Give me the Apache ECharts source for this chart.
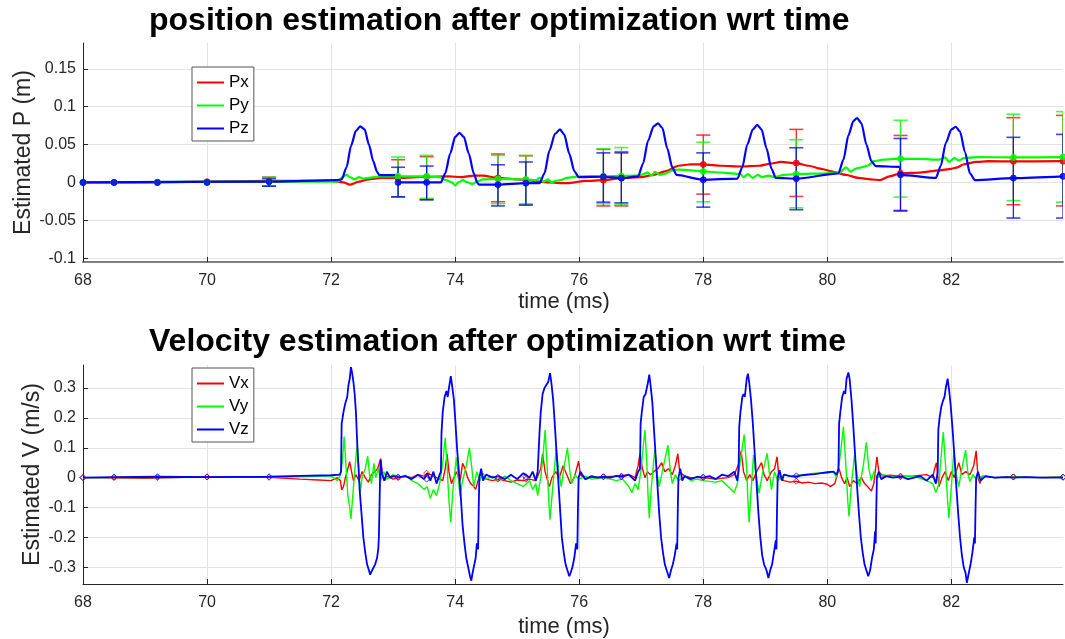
<!DOCTYPE html>
<html><head><meta charset="utf-8">
<script src="https://cdn.jsdelivr.net/npm/echarts@6/dist/echarts.min.js"></script>
<style>html,body{margin:0;padding:0;background:#fff}#c{width:1065px;height:639px}</style>
</head><body><div id="c"></div>
<script>
// ---------- tick labels ----------
const xTicks = [68, 70, 72, 74, 76, 78, 80, 82];
const pTicks = [-0.1, -0.05, 0, 0.05, 0.1, 0.15];
const vTicks = [-0.3, -0.2, -0.1, 0, 0.1, 0.2, 0.3];
const posNames = ['Px', 'Py', 'Pz'];
const velNames = ['Vx', 'Vy', 'Vz'];

// ---------- position lines [t, value] ----------
const pxLine = [[68,0],[69,0],[70,0.001],[71,0.002],[72.0,0.002],[72.2,0.0],[72.3,-0.003],[72.45,0.001],[72.6,0.004],[72.8,0.006],[73.08,0.006],[73.54,0.0075],[73.9,0.008],[74.1,0.007],[74.3,0.009],[74.45,0.009],[74.69,0.006],[75.0,0.004],[75.14,0.003],[75.5,0.0],[75.8,-0.001],[76.1,0.002],[76.39,0.003],[76.68,0.0057],[77.0,0.007],[77.2,0.01],[77.4,0.015],[77.6,0.022],[77.8,0.024],[78.0,0.0238],[78.3,0.022],[78.6,0.021],[78.9,0.022],[79.1,0.025],[79.25,0.027],[79.5,0.0255],[79.7,0.022],[79.9,0.018],[80.1,0.014],[80.3,0.01],[80.5,0.006],[80.7,0.004],[80.85,0.003],[81.0,0.008],[81.18,0.012],[81.5,0.013],[81.8,0.016],[82.0,0.018],[82.1,0.02],[82.2,0.024],[82.4,0.027],[82.6,0.028],[83.0,0.0278],[83.8,0.028]];
const pyLine = [[68,0],[71,0.001],[72.1,0.001],[72.2,0.008],[72.25,0.01],[72.3,0.007],[72.38,0.004],[72.45,0.007],[72.52,0.005],[72.6,0.006],[72.8,0.008],[73.08,0.008],[73.54,0.008],[73.75,0.007],[73.85,0.003],[73.95,0.0],[74.0,-0.004],[74.05,0.0],[74.12,0.003],[74.2,0.0],[74.28,-0.002],[74.35,0.001],[74.45,0.004],[74.69,0.0045],[75.14,0.004],[75.3,0.003],[75.36,0.006],[75.42,0.001],[75.5,0.004],[75.55,0.0],[75.62,0.002],[75.7,0.003],[75.8,0.006],[76.0,0.008],[76.39,0.008],[76.68,0.0085],[76.9,0.009],[77.0,0.01],[77.1,0.013],[77.17,0.009],[77.22,0.014],[77.3,0.01],[77.4,0.012],[77.5,0.016],[77.6,0.017],[77.8,0.016],[78.0,0.0145],[78.3,0.013],[78.6,0.011],[78.65,0.007],[78.72,0.011],[78.8,0.006],[78.88,0.01],[78.95,0.007],[79.05,0.009],[79.15,0.007],[79.3,0.01],[79.5,0.011],[80.0,0.012],[80.2,0.013],[80.3,0.02],[80.38,0.014],[80.45,0.018],[80.55,0.02],[80.65,0.022],[80.75,0.028],[80.9,0.03],[81.18,0.0313],[81.5,0.031],[81.8,0.03],[81.9,0.033],[81.96,0.027],[82.05,0.032],[82.12,0.029],[82.2,0.032],[82.4,0.0335],[83.0,0.033],[83.8,0.0335]];
const pzLine = [[68,0],[71,0.001],[72.1,0.003],[72.17,0.004],[72.25,0.02],[72.32,0.048],[72.4,0.068],[72.47,0.074],[72.54,0.07],[72.61,0.05],[72.68,0.028],[72.74,0.014],[72.78,0.0097],[73.07,0.0097],[73.08,0.0],[73.54,0.0],[73.77,0.0],[73.84,0.012],[73.92,0.038],[74.0,0.06],[74.07,0.0655],[74.14,0.06],[74.22,0.038],[74.3,0.012],[74.36,-0.001],[74.39,-0.003],[74.69,-0.003],[75.14,-0.001],[75.36,-0.001],[75.44,0.012],[75.52,0.042],[75.61,0.064],[75.69,0.07],[75.76,0.063],[75.84,0.038],[75.92,0.015],[75.99,0.007],[76.39,0.0075],[76.68,0.0057],[76.95,0.008],[77.03,0.025],[77.11,0.055],[77.2,0.074],[77.27,0.078],[77.34,0.072],[77.42,0.045],[77.5,0.02],[77.57,0.01],[78.0,0.0035],[78.55,0.005],[78.63,0.02],[78.71,0.05],[78.8,0.07],[78.87,0.076],[78.94,0.07],[79.02,0.045],[79.1,0.018],[79.17,0.006],[79.5,0.005],[80.18,0.012],[80.26,0.03],[80.34,0.062],[80.42,0.081],[80.48,0.085],[80.55,0.078],[80.63,0.05],[80.71,0.028],[80.78,0.0215],[81.17,0.0205],[81.18,0.01],[81.75,0.006],[81.83,0.022],[81.91,0.052],[82.0,0.07],[82.07,0.0735],[82.14,0.067],[82.22,0.04],[82.3,0.012],[82.38,0.003],[83.0,0.0057],[83.8,0.008]];

// ---------- position markers & error bars ----------
const markT = [68, 68.5, 69.2, 70, 71, 73.08, 73.54, 74.69, 75.14, 76.39, 76.68, 78.0, 79.5, 81.18, 83.0, 83.8];
const pxMark = [0, 0, 0, 0.001, 0.002, 0.006, 0.0075, 0.006, 0.003, 0.003, 0.0057, 0.0238, 0.0255, 0.012, 0.0278, 0.028];
const pyMark = [0, 0, 0, 0, 0.001, 0.008, 0.008, 0.0045, 0.004, 0.008, 0.0085, 0.0145, 0.011, 0.0313, 0.033, 0.0335];
const pzMark = [0, 0, 0, 0, 0.001, 0, 0, -0.003, -0.001, 0.0075, 0.0057, 0.0035, 0.005, 0.010, 0.0057, 0.008];
const errT = [71, 73.08, 73.54, 74.69, 75.14, 76.39, 76.68, 78.0, 79.5, 81.18, 83.0, 83.8];
const pxLow  = [-0.005, -0.019, -0.0225, -0.0255, -0.029, -0.031, -0.031, -0.0154, -0.0185, -0.038, -0.0295, -0.031];
const pxHigh = [0.007, 0.030, 0.034, 0.0375, 0.0352, 0.0436, 0.0405, 0.0625, 0.070, 0.062, 0.0855, 0.0885];
const pyLow  = [-0.005, -0.019, -0.021, -0.028, -0.0286, -0.028, -0.029, -0.0256, -0.0335, -0.0194, -0.024, -0.026];
const pyHigh = [0.007, 0.0335, 0.0357, 0.0357, 0.0357, 0.0445, 0.046, 0.053, 0.0564, 0.082, 0.090, 0.0934];
const pzLow  = [-0.005, -0.019, -0.023, -0.031, -0.030, -0.026, -0.027, -0.0326, -0.036, -0.037, -0.047, -0.047];
const pzHigh = [0.005, 0.020, 0.0216, 0.0233, 0.027, 0.039, 0.039, 0.039, 0.0458, 0.058, 0.0595, 0.0634];

// ---------- velocity lines [t, value] ----------
const vxLine = [[68,0],[69,-0.002],[70,0.003],[70.5,0.002],[71,0.001],[71.5,-0.005],[71.8,-0.008],[72.0,-0.01],[72.1,0.0],[72.15,-0.01],[72.17,-0.041],[72.2,-0.03],[72.23,0.0],[72.27,0.03],[72.3,0.053],[72.33,0.02],[72.36,-0.01],[72.4,0.01],[72.45,-0.01],[72.5,0.02],[72.55,0.0],[72.6,-0.015],[72.65,0.01],[72.7,0.02],[72.75,0.03],[72.8,0.064],[72.82,0.02],[72.86,-0.01],[72.9,0.005],[73.0,-0.005],[73.1,0.0],[73.2,0.005],[73.3,0.0],[73.4,0.01],[73.5,0.005],[73.55,0.015],[73.7,0.0],[73.8,-0.01],[73.84,0.03],[73.87,0.079],[73.9,0.02],[73.94,-0.02],[73.98,0.0],[74.02,0.02],[74.08,-0.01],[74.12,0.048],[74.16,0.03],[74.2,0.0],[74.25,-0.02],[74.3,-0.03],[74.33,-0.039],[74.37,-0.01],[74.4,0.01],[74.5,-0.005],[74.6,-0.01],[74.7,-0.005],[74.8,-0.01],[74.9,-0.015],[75.0,-0.008],[75.1,-0.01],[75.2,-0.005],[75.3,-0.01],[75.38,0.03],[75.41,0.08],[75.45,0.02],[75.49,-0.01],[75.52,-0.03],[75.56,0.0],[75.62,0.02],[75.68,0.0],[75.74,0.04],[75.8,0.01],[75.86,-0.02],[75.92,0.0],[75.99,0.055],[76.02,0.01],[76.1,-0.005],[76.2,0.0],[76.4,0.003],[76.6,0.005],[76.8,0.01],[76.9,0.0],[76.95,0.04],[76.98,0.08],[77.02,0.03],[77.06,0.0],[77.1,0.02],[77.15,0.01],[77.2,0.02],[77.27,0.03],[77.33,0.05],[77.38,0.02],[77.44,0.03],[77.5,0.01],[77.55,0.04],[77.59,0.08],[77.62,0.02],[77.7,0.005],[77.8,0.0],[78.0,0.0],[78.2,-0.005],[78.4,0.0],[78.5,0.01],[78.58,0.05],[78.61,0.09],[78.65,0.02],[78.7,-0.01],[78.75,0.01],[78.8,-0.01],[78.86,0.02],[78.94,0.05],[78.98,0.01],[79.03,-0.01],[79.1,0.02],[79.15,0.03],[79.19,0.07],[79.22,0.0],[79.3,-0.01],[79.4,-0.015],[79.5,-0.012],[79.6,-0.018],[79.7,-0.015],[79.8,-0.02],[79.9,-0.018],[80.0,-0.022],[80.05,-0.03],[80.12,-0.02],[80.19,0.03],[80.23,0.0],[80.28,-0.02],[80.32,0.0],[80.36,-0.03],[80.42,-0.01],[80.48,-0.02],[80.55,0.0],[80.6,-0.02],[80.65,-0.03],[80.71,-0.045],[80.75,-0.02],[80.8,0.07],[80.83,0.02],[80.9,0.005],[81.0,0.008],[81.2,0.005],[81.4,0.006],[81.6,0.01],[81.7,0.0],[81.73,0.03],[81.76,0.05],[81.8,-0.03],[81.85,0.0],[81.9,0.02],[81.95,-0.01],[82.0,0.02],[82.05,0.0],[82.12,0.05],[82.17,0.01],[82.23,0.02],[82.3,0.01],[82.36,0.04],[82.4,0.09],[82.43,0.0],[82.46,-0.02],[82.5,0.005],[82.7,0.0],[83.0,0.003],[83.4,0.0],[83.8,0.002]];
const vyLine = [[68,0],[69,0],[70,0.001],[71,0.002],[71.5,0.004],[72.0,0.006],[72.1,-0.01],[72.15,0.01],[72.18,0.05],[72.21,0.137],[72.24,0.04],[72.27,-0.06],[72.3,-0.1],[72.32,-0.138],[72.35,-0.06],[72.38,0.02],[72.42,0.109],[72.45,0.02],[72.47,-0.049],[72.5,0.0],[72.55,0.03],[72.59,0.072],[72.62,0.01],[72.65,-0.02],[72.69,0.048],[72.72,0.0],[72.76,0.03],[72.8,-0.01],[72.85,0.02],[72.9,-0.005],[73.0,0.01],[73.1,0.0],[73.2,0.008],[73.3,-0.01],[73.4,-0.02],[73.5,-0.04],[73.55,-0.03],[73.6,-0.07],[73.65,-0.04],[73.7,-0.06],[73.75,-0.02],[73.8,0.05],[73.84,0.133],[73.87,0.04],[73.9,-0.08],[73.93,-0.15],[73.96,-0.05],[74.0,0.03],[74.02,0.067],[74.05,0.0],[74.08,-0.063],[74.12,-0.01],[74.18,0.04],[74.23,0.1],[74.27,0.03],[74.3,-0.03],[74.35,0.02],[74.4,-0.01],[74.45,0.015],[74.5,-0.005],[74.6,0.005],[74.7,-0.01],[74.8,0.005],[74.9,-0.01],[75.0,-0.02],[75.1,-0.03],[75.2,-0.01],[75.25,-0.04],[75.3,-0.02],[75.33,-0.06],[75.38,0.0],[75.42,0.08],[75.45,0.159],[75.48,0.05],[75.51,-0.08],[75.53,-0.141],[75.57,-0.04],[75.6,0.03],[75.63,0.098],[75.67,0.02],[75.71,-0.03],[75.76,0.04],[75.81,0.1],[75.85,0.02],[75.88,-0.02],[75.93,0.01],[76.0,-0.005],[76.1,0.005],[76.2,-0.005],[76.4,0.0],[76.6,-0.01],[76.7,-0.005],[76.8,-0.03],[76.85,-0.05],[76.9,-0.02],[76.95,-0.04],[77.0,0.03],[77.03,0.1],[77.06,0.159],[77.09,0.05],[77.11,-0.06],[77.13,-0.136],[77.16,-0.04],[77.19,0.03],[77.22,0.094],[77.26,0.01],[77.29,-0.03],[77.35,0.03],[77.43,0.109],[77.47,0.02],[77.5,-0.02],[77.55,0.01],[77.6,-0.01],[77.7,0.005],[77.8,-0.01],[77.9,-0.005],[78.0,-0.01],[78.2,-0.015],[78.3,-0.01],[78.4,-0.03],[78.5,-0.05],[78.55,-0.02],[78.6,0.06],[78.66,0.144],[78.7,0.03],[78.72,-0.08],[78.74,-0.15],[78.77,-0.05],[78.81,0.076],[78.85,0.01],[78.9,-0.052],[78.96,0.02],[79.03,0.081],[79.07,0.01],[79.1,-0.04],[79.15,0.02],[79.2,-0.01],[79.3,0.01],[79.4,0.005],[79.6,0.01],[79.8,0.015],[80.0,0.015],[80.1,0.02],[80.15,0.0],[80.2,0.06],[80.26,0.17],[80.3,0.04],[80.33,-0.08],[80.35,-0.13],[80.39,-0.02],[80.44,0.076],[80.48,0.01],[80.52,-0.03],[80.58,0.04],[80.63,0.118],[80.67,0.03],[80.71,-0.01],[80.75,0.02],[80.8,0.0],[80.9,0.01],[81.0,0.005],[81.2,0.003],[81.4,0.005],[81.6,-0.01],[81.7,-0.02],[81.75,-0.05],[81.8,-0.02],[81.83,0.06],[81.87,0.153],[81.91,0.03],[81.94,-0.08],[81.96,-0.136],[82.0,-0.03],[82.04,0.087],[82.08,0.01],[82.12,-0.03],[82.17,0.03],[82.23,0.092],[82.27,0.01],[82.3,-0.013],[82.35,0.01],[82.4,-0.005],[82.5,0.005],[82.7,0.0],[83.0,0.003],[83.4,0.0],[83.8,0.002]];
const vzLine = [[68,0],[68.5,0.002],[69.2,0.003],[70,0.002],[71,0.003],[71.5,0.006],[72.0,0.008],[72.14,0.01],[72.16,0.02],[72.17,0.18],[72.2,0.22],[72.23,0.25],[72.26,0.27],[72.28,0.31],[72.3,0.33],[72.32,0.37],[72.34,0.35],[72.36,0.32],[72.38,0.28],[72.4,0.22],[72.42,0.12],[72.44,0.04],[72.46,-0.04],[72.49,-0.12],[72.52,-0.2],[72.55,-0.25],[72.58,-0.29],[72.61,-0.31],[72.63,-0.325],[72.65,-0.315],[72.68,-0.31],[72.71,-0.29],[72.74,-0.27],[72.76,-0.24],[72.77,-0.2],[72.78,-0.1],[72.79,0.01],[72.8,0.06],[72.82,0.01],[72.86,-0.01],[72.9,0.02],[72.95,0.0],[73.0,0.005],[73.1,0.002],[73.2,0.005],[73.3,-0.005],[73.4,0.01],[73.5,-0.005],[73.55,0.015],[73.6,-0.01],[73.65,0.02],[73.7,-0.02],[73.75,0.01],[73.77,0.02],[73.78,0.15],[73.8,0.22],[73.83,0.27],[73.86,0.29],[73.88,0.27],[73.9,0.3],[73.93,0.34],[73.95,0.31],[73.98,0.26],[74.0,0.2],[74.03,0.1],[74.06,0.02],[74.09,-0.06],[74.12,-0.16],[74.15,-0.22],[74.18,-0.27],[74.21,-0.3],[74.24,-0.33],[74.26,-0.345],[74.28,-0.32],[74.31,-0.29],[74.33,-0.27],[74.35,-0.22],[74.37,-0.24],[74.38,-0.1],[74.39,0.0],[74.42,0.03],[74.45,-0.01],[74.5,0.01],[74.6,0.0],[74.7,0.005],[74.8,-0.005],[74.9,0.01],[75.0,-0.005],[75.1,0.015],[75.2,0.0],[75.25,0.02],[75.3,-0.01],[75.33,0.02],[75.35,0.02],[75.36,0.15],[75.38,0.22],[75.41,0.28],[75.44,0.3],[75.47,0.3],[75.5,0.32],[75.53,0.35],[75.55,0.32],[75.58,0.26],[75.6,0.2],[75.63,0.1],[75.66,0.0],[75.69,-0.1],[75.72,-0.2],[75.75,-0.25],[75.78,-0.29],[75.81,-0.31],[75.84,-0.33],[75.86,-0.32],[75.89,-0.3],[75.92,-0.27],[75.95,-0.22],[75.97,-0.24],[75.98,-0.1],[75.99,0.0],[76.02,0.02],[76.1,-0.005],[76.2,0.005],[76.3,0.0],[76.4,0.003],[76.5,0.0],[76.6,0.006],[76.7,0.003],[76.8,0.01],[76.9,-0.01],[76.95,0.02],[76.98,0.03],[76.99,0.18],[77.01,0.22],[77.04,0.27],[77.07,0.28],[77.09,0.3],[77.11,0.32],[77.13,0.345],[77.15,0.31],[77.18,0.25],[77.2,0.18],[77.23,0.08],[77.26,-0.02],[77.29,-0.12],[77.32,-0.2],[77.35,-0.25],[77.38,-0.29],[77.41,-0.31],[77.45,-0.336],[77.48,-0.31],[77.51,-0.29],[77.54,-0.26],[77.57,-0.22],[77.58,-0.24],[77.59,-0.1],[77.6,0.0],[77.63,0.03],[77.66,-0.01],[77.7,0.005],[77.8,-0.005],[77.9,0.003],[78.0,0.0],[78.1,0.005],[78.2,-0.005],[78.3,0.01],[78.4,0.005],[78.5,0.02],[78.55,-0.01],[78.57,0.03],[78.58,0.17],[78.6,0.22],[78.63,0.27],[78.65,0.28],[78.67,0.27],[78.7,0.33],[78.72,0.348],[78.74,0.32],[78.77,0.26],[78.8,0.18],[78.83,0.08],[78.86,-0.02],[78.89,-0.12],[78.92,-0.2],[78.95,-0.26],[78.98,-0.29],[79.02,-0.31],[79.05,-0.336],[79.08,-0.31],[79.11,-0.29],[79.14,-0.25],[79.17,-0.21],[79.18,-0.24],[79.19,-0.1],[79.2,0.0],[79.23,0.025],[79.27,-0.01],[79.3,0.01],[79.4,0.005],[79.5,0.003],[79.6,0.008],[79.7,0.01],[79.8,0.012],[79.9,0.015],[80.0,0.018],[80.1,0.02],[80.15,0.01],[80.18,0.03],[80.19,0.18],[80.21,0.22],[80.24,0.27],[80.27,0.29],[80.29,0.28],[80.31,0.33],[80.34,0.352],[80.36,0.33],[80.39,0.26],[80.42,0.17],[80.45,0.07],[80.48,-0.03],[80.51,-0.12],[80.54,-0.2],[80.57,-0.25],[80.6,-0.29],[80.63,-0.31],[80.66,-0.33],[80.69,-0.31],[80.72,-0.27],[80.75,-0.24],[80.77,-0.18],[80.78,-0.22],[80.79,-0.1],[80.8,0.0],[80.83,0.02],[80.87,-0.005],[80.95,0.005],[81.05,0.0],[81.2,0.003],[81.3,-0.005],[81.4,0.0],[81.5,0.005],[81.6,-0.01],[81.7,0.01],[81.75,-0.02],[81.78,0.02],[81.79,0.16],[81.81,0.2],[81.84,0.24],[81.87,0.26],[81.89,0.27],[81.91,0.3],[81.94,0.331],[81.96,0.3],[81.99,0.24],[82.02,0.16],[82.05,0.07],[82.08,-0.03],[82.11,-0.12],[82.14,-0.2],[82.17,-0.26],[82.2,-0.3],[82.23,-0.32],[82.25,-0.352],[82.28,-0.32],[82.31,-0.29],[82.34,-0.25],[82.37,-0.2],[82.38,-0.22],[82.39,-0.1],[82.4,0.0],[82.43,0.02],[82.47,-0.01],[82.55,0.005],[82.7,0.0],[82.9,0.002],[83.0,0.0],[83.2,0.002],[83.5,0.0],[83.8,0.0]];
const vzMark = [0, 0.002, 0.003, 0.002, 0.003, 0.002, -0.005, 0.001, 0.003, 0.003, 0.003, 0.002, 0.006, 0.003, 0.002, 0.001];
const vxMark = [0, 0, 0, 0.003, 0.001, 0.0, 0.015, -0.005, -0.005, 0.003, 0.005, 0.0, -0.012, 0.005, 0.003, 0.002];

// ---------- build ----------
const COLORS = ['#ff0000', '#00ff00', '#0000ff'];
const FONT = 'Liberation Sans';
const pairs = (xs, ys) => xs.map((x, i) => [x, ys[i]]);
const errData = (lo, hi) => errT.map((t, i) => [t, lo[i], hi[i]]);

function errRender(color) {
  return function (params, api) {
    const lo = api.coord([api.value(0), api.value(1)]);
    const hi = api.coord([api.value(0), api.value(2)]);
    const w = 7;
    return {
      type: 'group',
      children: [
        { type: 'line', shape: { x1: lo[0], y1: lo[1], x2: hi[0], y2: hi[1] }, style: { stroke: color, lineWidth: 1.3, opacity: 0.85 } },
        { type: 'line', shape: { x1: lo[0] - w, y1: lo[1], x2: lo[0] + w, y2: lo[1] }, style: { stroke: color, lineWidth: 1.6, opacity: 0.75 } },
        { type: 'line', shape: { x1: hi[0] - w, y1: hi[1], x2: hi[0] + w, y2: hi[1] }, style: { stroke: color, lineWidth: 1.6, opacity: 0.75 } }
      ]
    };
  };
}

function xAxisCfg(gi, lineColor, lineWidth, gap) {
  return {
    gridIndex: gi, type: 'value', min: 68, max: 83.8,
    name: 'time (ms)', nameLocation: 'middle', nameGap: gap, nameMoveOverlap: false,
    nameTextStyle: { fontFamily: FONT, fontSize: 22, color: '#262626', padding: [0, 18, 0, 0] },
    axisLine: { show: true, onZero: false, lineStyle: { color: lineColor, width: lineWidth } },
    axisTick: { show: true, inside: true, length: 5, customValues: xTicks, lineStyle: { color: '#262626' } },
    axisLabel: { customValues: xTicks, fontFamily: FONT, fontSize: 16, color: '#262626', margin: 11 },
    splitLine: { show: true, lineStyle: { color: '#e3e3e3', width: 1 } }
  };
}
function yAxisCfg(gi, min, max, ticks, name, gap) {
  return {
    gridIndex: gi, type: 'value', min: min, max: max,
    name: name, nameLocation: 'middle', nameGap: gap, nameMoveOverlap: false,
    nameTextStyle: { fontFamily: FONT, fontSize: 23, color: '#262626' },
    axisLine: { show: true, onZero: false, lineStyle: { color: '#262626', width: 1 } },
    axisTick: { show: true, inside: true, length: 5, customValues: ticks, lineStyle: { color: '#262626' } },
    axisLabel: { customValues: ticks, fontFamily: FONT, fontSize: 16, color: '#262626', margin: 7,
      formatter: v => String(parseFloat(v.toFixed(3))) },
    splitLine: { show: true, lineStyle: { color: '#e3e3e3', width: 1 } }
  };
}

const series = [];
[pxLine, pyLine, pzLine].forEach((d, i) => series.push({
  name: posNames[i], type: 'line', xAxisIndex: 0, yAxisIndex: 0, data: d,
  symbol: 'none', smooth: 0.25, smoothMonotone: 'x',
  lineStyle: { color: COLORS[i], width: 2.2 }, itemStyle: { color: COLORS[i] }, z: 3 + i
}));
[[pxLow, pxHigh], [pyLow, pyHigh], [pzLow, pzHigh]].forEach((e, i) => series.push({
  type: 'custom', xAxisIndex: 0, yAxisIndex: 0, data: errData(e[0], e[1]),
  renderItem: errRender(COLORS[i]), clip: true, z: 6 + i, silent: true
}));
[pxMark, pyMark, pzMark].forEach((m, i) => series.push({
  type: 'scatter', xAxisIndex: 0, yAxisIndex: 0, data: pairs(markT, m),
  symbol: 'circle', symbolSize: 6, itemStyle: { color: COLORS[i], borderColor: COLORS[i], borderWidth: 1 }, z: 10 + i, silent: true
}));
[vxLine, vyLine, vzLine].forEach((d, i) => series.push({
  name: velNames[i], type: 'line', xAxisIndex: 1, yAxisIndex: 1, data: d,
  symbol: 'none', lineStyle: { color: COLORS[i], width: i === 2 ? 1.8 : 1.4 }, itemStyle: { color: COLORS[i] }, z: 3 + i
}));
series.push({ type: 'scatter', xAxisIndex: 1, yAxisIndex: 1, data: pairs(markT, vxMark),
  symbol: 'diamond', symbolSize: 6, itemStyle: { color: 'rgba(0,0,0,0)', borderColor: '#ff0000', borderWidth: 1 }, z: 12, silent: true });
series.push({ type: 'scatter', xAxisIndex: 1, yAxisIndex: 1, data: pairs(markT, vzMark),
  symbol: 'diamond', symbolSize: 6, itemStyle: { color: 'rgba(0,0,0,0)', borderColor: '#0000ff', borderWidth: 1 }, z: 13, silent: true });

function legendCfg(names, top) {
  return {
    data: names, orient: 'vertical', left: 192, top: top,
    icon: 'rect', itemWidth: 27, itemHeight: 2, itemGap: 4,
    padding: [6, 5, 3, 5],
    backgroundColor: '#ffffff', borderColor: '#555555', borderWidth: 1,
    textStyle: { fontFamily: FONT, fontSize: 17, color: '#000', lineHeight: 19 },
    selectedMode: false
  };
}

const option = {
  animation: false,
  backgroundColor: '#ffffff',
  title: [
    { text: 'position estimation after optimization wrt time', left: 149, top: 5, padding: 0,
      textStyle: { fontFamily: FONT, fontSize: 32, fontWeight: 'bold', color: '#000' } },
    { text: 'Velocity estimation after optimization wrt time', left: 149, top: 326, padding: 0,
      textStyle: { fontFamily: FONT, fontSize: 32, fontWeight: 'bold', color: '#000' } }
  ],
  legend: [legendCfg(posNames, 67), legendCfg(velNames, 368)],
  grid: [
    { left: 83, width: 980, top: 43, height: 219, containLabel: false },
    { left: 83, width: 980, top: 365, height: 220, containLabel: false }
  ],
  xAxis: [xAxisCfg(0, '#7f7f7f', 2, 29), xAxisCfg(1, '#262626', 1, 32)],
  yAxis: [yAxisCfg(0, -0.105, 0.184, pTicks, 'Estimated P (m)', 48),
          yAxisCfg(1, -0.356, 0.377, vTicks, 'Estimated V (m/s)', 39)],
  series: series
};
const chart = echarts.init(document.getElementById('c'), null, { renderer: 'canvas' });
chart.setOption(option);
</script>
</body></html>
